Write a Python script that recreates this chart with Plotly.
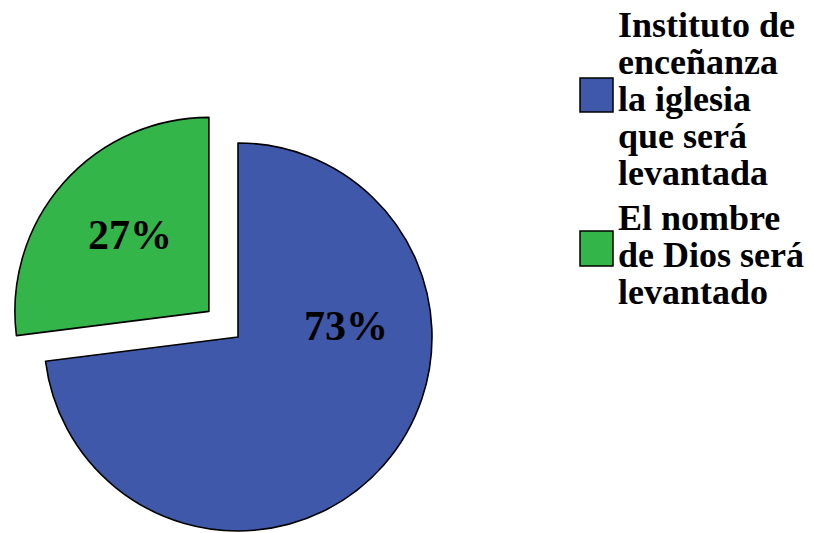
import math
import plotly.graph_objects as go

# ---- data ----
labels = ["Instituto de<br>enceñanza<br>la iglesia<br>que será<br>levantada",
          "El nombre<br>de Dios será<br>levantado"]
values = [73, 27]
colors = ["#3F58A9", "#33B54A"]
pulled = 1          # index of the exploded slice
pull = 0.2

OFF = 8                      # page body margin
W, H = 814 - OFF, 533 - OFF  # figure size
CX, CY, R = 238 - OFF, 337 - OFF, 194   # pie centre / radius in px (figure coords)
FONT = "Liberation Serif"
TRANSP = "rgba(0,0,0,0)"

total = sum(values)
pct = [f"{round(v / total * 100)}%" for v in values]

# direction of the exploded slice bisector (clockwise from 12 o'clock)
start = sum(values[:pulled]) / total * 360
mid = math.radians(start + values[pulled] / total * 360 / 2)
dx = pull * R * math.sin(mid)
dy = pull * R * math.cos(mid)   # upward


def domain(cx, cy):
    return dict(x=[max(0, (cx - R) / W), (cx + R) / W],
                y=[max(0, (H - cy - R) / H), (H - cy + R) / H])


def px(x, y):
    """page pixel -> paper coords"""
    return (x - OFF) / W, 1 - (y - OFF) / H


fig = go.Figure()
for i, (cx, cy) in enumerate([(CX, CY), (CX + dx, CY - dy)]):
    show = [(j == pulled) == (i == 1) for j in range(len(values))]
    fig.add_trace(go.Pie(
        labels=labels, values=values, sort=False, direction="clockwise",
        rotation=0, textinfo="none", hoverinfo="label+percent",
        marker=dict(colors=[c if s else TRANSP for c, s in zip(colors, show)],
                    line=dict(color="black", width=[1.6 if s else 0 for s in show])),
        domain=domain(cx, cy), showlegend=False,
    ))

annotations = []
# percentage labels (page px)
pct_pos = [(346, 326), (130, 235)]
for p, (x, y) in zip(pct, pct_pos):
    ax, ay = px(x, y)
    annotations.append(dict(text=p, x=ax, y=ay, xref="paper", yref="paper",
                            showarrow=False, xanchor="center", yanchor="middle",
                            font=dict(family=FONT, size=42, color="black", weight="bold")))

# legend (page px)
shapes = []
line_h = 37
entry_top = [25, 218]
sq = [(580, 78, 613, 112), (580, 231, 613, 266)]
for k, lab in enumerate(labels):
    x0, y0, x1, y1 = sq[k]
    a0, b0 = px(x0, y0)
    a1, b1 = px(x1, y1)
    shapes.append(dict(type="rect", xref="paper", yref="paper",
                       x0=a0, x1=a1, y0=b0, y1=b1,
                       fillcolor=colors[k], line=dict(color="black", width=1.5)))
    for n, ln in enumerate(lab.split("<br>")):
        ax, ay = px(617, entry_top[k] + n * line_h)
        annotations.append(dict(text=ln, x=ax, y=ay, xref="paper", yref="paper",
                                showarrow=False, xanchor="left", yanchor="middle",
                                borderpad=0,
                                font=dict(family=FONT, size=36, color="black", weight="bold")))

fig.update_layout(width=W, height=H, margin=dict(l=0, r=0, t=0, b=0),
                  paper_bgcolor="white", plot_bgcolor="white",
                  annotations=annotations, shapes=shapes, showlegend=False)
fig.write_html("out.html")
